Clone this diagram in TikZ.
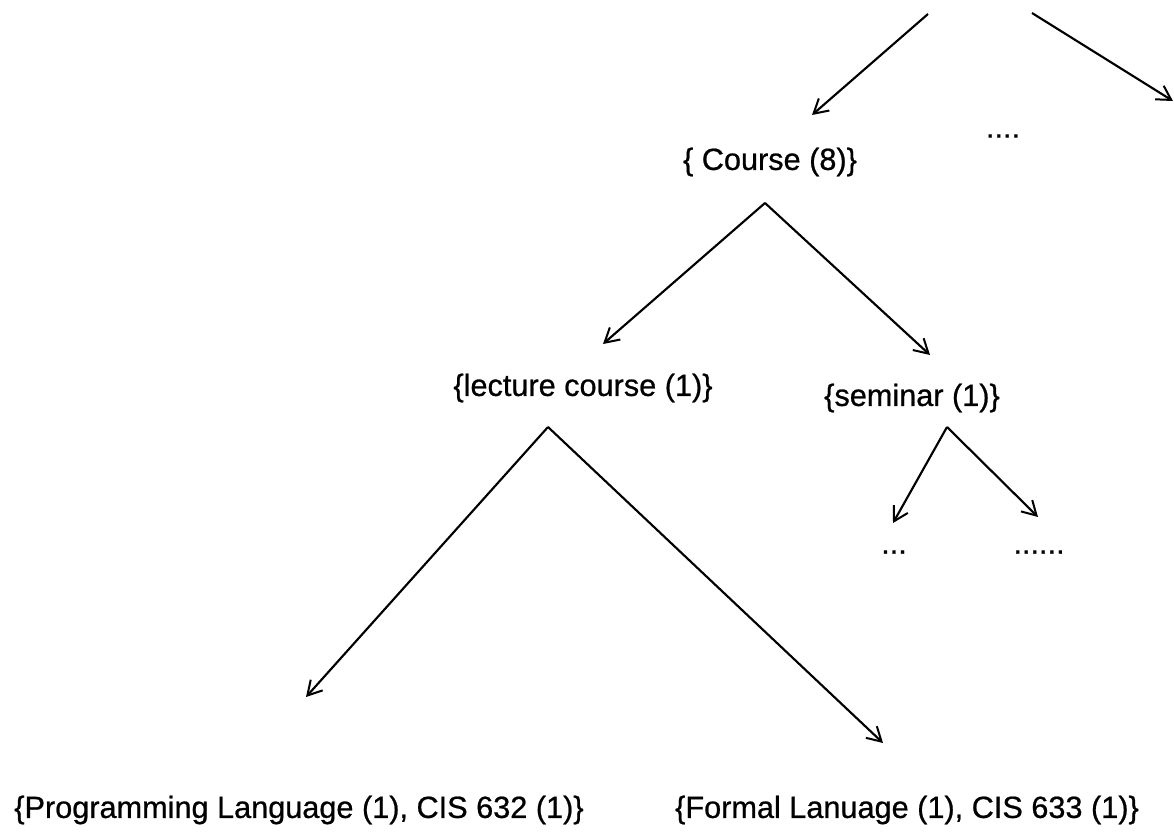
\documentclass[tikz,border=0pt]{standalone}
\usepackage{fontspec}
\setmainfont[FakeBold=0.7]{Liberation Sans}
\usetikzlibrary{arrows.meta}
\begin{document}
\begin{tikzpicture}[x=0.75pt,y=-0.75pt,
  lbl/.style={inner sep=0pt,font=\fontsize{23}{27}\selectfont},
  edge/.style={line width=1.6pt,-{Straight Barb[length=10.5pt,width=12pt,line width=1.5pt]}}]
\useasboundingbox (0,0) rectangle (1174,834);
% labels
\node[lbl] (course) at (770,162) {\{ Course (8)\}};
\node[lbl] (more) at (1003,136) {....};
\node[lbl] (lecture) at (583,388) {\{lecture course (1)\}};
\node[lbl] (seminar) at (912,398) {\{seminar (1)\}};
\node[lbl] (dots3) at (894,552) {...};
\node[lbl] (dots6) at (1039,552) {......};
\node[lbl] (prog) at (299,810) {\{Programming Language (1), CIS 632 (1)\}};
\node[lbl] (formal) at (907,810) {\{Formal Lanuage (1), CIS 633 (1)\}};
% connector ends
\coordinate (rootL) at (928,14);
\coordinate (rootR) at (1032,13);
\coordinate (courseIn) at (812,115);
\coordinate (moreIn) at (1173,101);
\coordinate (courseOut) at (765,203);
\coordinate (lectureIn) at (603,344);
\coordinate (seminarIn) at (930,355);
\coordinate (lectureOut) at (548,427);
\coordinate (progIn) at (306,697);
\coordinate (formalIn) at (883,743);
\coordinate (seminarOut) at (947,427);
\coordinate (dots3In) at (893,523);
\coordinate (dots6In) at (1038,517);
% connectors
\draw[edge] (rootL) -- (courseIn);
\draw[edge] (rootR) -- (moreIn);
\draw[edge] (courseOut) -- (lectureIn);
\draw[edge] (courseOut) -- (seminarIn);
\draw[edge] (lectureOut) -- (progIn);
\draw[edge] (lectureOut) -- (formalIn);
\draw[edge] (seminarOut) -- (dots3In);
\draw[edge] (seminarOut) -- (dots6In);
\end{tikzpicture}
\end{document}
